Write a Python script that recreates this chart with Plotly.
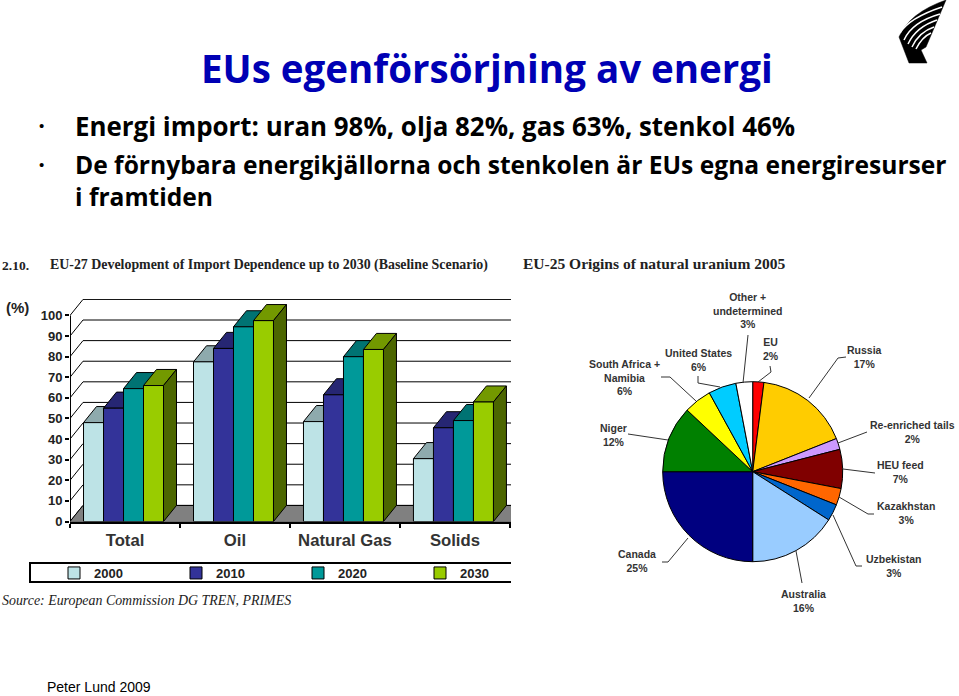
import plotly.graph_objects as go

W = 959
H = 696

categories = ["Total", "Oil", "Natural Gas", "Solids"]
years = ["2000", "2010", "2020", "2030"]
import_2000 = [48, 77.5, 48.5, 30.5]
import_2010 = [55, 84, 61.5, 45.5]
import_2020 = [64.5, 94.5, 80, 49]
import_2030 = [66, 97.5, 83.5, 58]
y_ticks = [0, 10, 20, 30, 40, 50, 60, 70, 80, 90, 100]

pie_labels = ["EU", "Russia", "Re-enriched tails", "HEU feed", "Kazakhstan", "Uzbekistan",
              "Australia", "Canada", "Niger", "South Africa +<br>Namibia", "United States",
              "Other +<br>undetermined"]
pie_values = [2, 17, 2, 7, 3, 3, 16, 25, 12, 5, 5, 3]
pie_text = ["2%", "17%", "2%", "7%", "3%", "3%", "16%", "25%", "12%", "6%", "6%", "3%"]

front_colors = ["#BDE3E6", "#333399", "#009999", "#99CC00"]
top_colors = ["#8EAAAD", "#262673", "#007373", "#739900"]
side_color = "#4C6600"
pie_colors = ["#FF0000", "#FFCC00", "#CC99FF", "#800000", "#FF6600", "#0066CC",
              "#99CCFF", "#000080", "#008000", "#FFFF00", "#00CCFF", "#FFFFFF"]

series = [import_2000, import_2010, import_2020, import_2030]

# depth of the fake 3d, in axis units
DX = 13 / 110
DY = 7.8
BAR_W = 80 / 110 / 4
BAR_START = -0.377


def px(x):
    return x / W


def py(y):
    return 1 - y / H


def text(x, y, s, size, color="black", family="Liberation Sans", anchor="center", align="center"):
    fig.add_annotation(x=px(x), y=py(y), xref="paper", yref="paper", text=s, showarrow=False,
                       xanchor=anchor, yanchor="middle", align=align,
                       font=dict(family=family, size=size, color=color))


fig = go.Figure()


def face(xs, ys, color):
    fig.add_trace(go.Scatter(x=xs, y=ys, mode="lines", fill="toself", fillcolor=color,
                             line=dict(color="black", width=1), showlegend=False,
                             hoverinfo="skip"))


# back wall grid
for t in y_ticks:
    fig.add_trace(go.Scatter(x=[-0.5, -0.5 + DX, 3.6], y=[t, t + DY, t + DY], mode="lines",
                             line=dict(color="black", width=1), showlegend=False,
                             hoverinfo="skip"))
# floor
face([-0.5, -0.5 + DX, 3.6, 3.6, -0.5], [0, DY, DY, 0, 0], "#808080")

# tops and sides go on the lower axes so the bar fronts cover them
for i, values in enumerate(series):
    for c, v in enumerate(values):
        left = c + BAR_START + i * BAR_W
        right = left + BAR_W
        face([left, left + DX, right + DX, right, left], [v, v + DY, v + DY, v, v], top_colors[i])
        if i == len(series) - 1:
            face([right, right + DX, right + DX, right, right], [0, DY, v + DY, v, 0], side_color)

for i, values in enumerate(series):
    fig.add_trace(go.Bar(x=list(range(len(categories))), y=values, name=years[i],
                         width=BAR_W, offset=BAR_START + i * BAR_W,
                         marker=dict(color=front_colors[i], line=dict(color="black", width=1)),
                         xaxis="x2", yaxis="y2"))

# y axis line, only up to 100
fig.add_trace(go.Scatter(x=[-0.5, -0.5], y=[0, 100], mode="lines", cliponaxis=False,
                         line=dict(color="black", width=2), showlegend=False, hoverinfo="skip"))

fig.add_trace(go.Pie(labels=pie_labels, values=pie_values, sort=False, direction="clockwise",
                     rotation=0, textinfo="none", showlegend=False,
                     marker=dict(colors=pie_colors, line=dict(color="black", width=1)),
                     domain=dict(x=[px(662.7), px(842.7)], y=[py(561.7), py(381.7)])))

x_dom = [px(70), px(511)]
y_dom = [py(521.5), py(299)]
x_range = [-0.5, 3.51]
y_range = [0, 108]

fig.update_layout(
    width=W, height=H, margin=dict(l=0, r=0, t=0, b=0), paper_bgcolor="white",
    plot_bgcolor="white", barmode="overlay", showlegend=True,
    xaxis=dict(domain=x_dom, range=x_range, tickvals=list(range(4)), ticktext=categories,
               automargin=False, showgrid=False, zeroline=False, showline=True,
               linecolor="black", linewidth=2, ticks="", ticklen=0, ticklabelstandoff=2,
               tickfont=dict(family="Liberation Sans", size=16.7, color="#333333", weight="bold"),
               minor=dict(ticks="outside", tickmode="array", tickvals=[-0.5, 0.5, 1.5, 2.5, 3.5],
                          ticklen=4, tickcolor="black", tickwidth=2)),
    yaxis=dict(domain=y_dom, range=y_range, tickvals=y_ticks, automargin=False, showgrid=False,
               zeroline=False, ticks="outside", ticklen=4, tickcolor="black", tickwidth=2,
               tickfont=dict(family="Liberation Sans", size=13, color="#222222", weight="bold")),
    xaxis2=dict(domain=x_dom, range=x_range, overlaying="x", visible=False, automargin=False),
    yaxis2=dict(domain=y_dom, range=y_range, overlaying="y", visible=False, automargin=False),
    legend=dict(orientation="h", x=px(54), y=py(573), xanchor="left", yanchor="middle",
                entrywidth=77, entrywidthmode="pixels", bgcolor="rgba(0,0,0,0)",
                font=dict(family="Liberation Sans", size=13, color="#222222", weight="bold")),
)

# legend frame, cut off on the right like the picture
fig.add_shape(type="path", xref="paper", yref="paper",
              path=f"M {px(511)} {py(563)} L {px(30)} {py(563)} L {px(30)} {py(582)} L {px(511)} {py(582)}",
              line=dict(color="black", width=2))

# leader lines of the pie, read in pixels
leaders = [
    [(758, 382), (771, 372), (770, 366)],
    [(809, 398), (838, 358), (846, 357)],
    [(838, 443), (867, 432)],
    [(843, 469), (875, 473)],
    [(839, 497), (868, 514), (874, 514)],
    [(833, 515), (856, 566), (862, 566)],
    [(796, 551), (802, 583)],
    [(688, 538), (668, 562), (662, 562)],
    [(668, 440), (628, 434)],
    [(696, 401), (670, 377), (661, 377)],
    [(720, 387), (698, 383), (698, 376)],
    [(743, 383), (748, 335)],
]
for pts in leaders:
    path = "M " + " L ".join(f"{px(a)} {py(b)}" for a, b in pts)
    fig.add_shape(type="path", xref="paper", yref="paper", path=path,
                  line=dict(color="#333333", width=1))


def logo_path(d):
    # d is in pixels of the picture
    out = []
    is_x = True
    for token in d.split():
        if token.isalpha():
            out.append(token)
            is_x = True
        else:
            out.append(str(px(float(token)) if is_x else py(float(token))))
            is_x = not is_x
    return " ".join(out)


# logo, black sail with white curved cuts
fig.add_shape(type="path", xref="paper", yref="paper",
              path=logo_path("M 946 0 Q 909 13 899 37 L 909 63 L 927 63 L 921 50 L 926 47 Z"),
              fillcolor="black", line=dict(color="black", width=0.5))
cuts = [
    "M 900 33 Q 909 18 942 7",
    "M 904 40 Q 912 22 940 14",
    "M 908 44 Q 916 27 937 20",
    "M 912 47 Q 919 32 934 27",
    "M 916 49 Q 922 37 931 33",
]
for d in cuts:
    fig.add_shape(type="path", xref="paper", yref="paper", path=logo_path(d),
                  line=dict(color="white", width=1.5))

# slide text
HAND = "Comic Sans MS, Open Sans, Noto Sans"
text(487, 68, "<b>EUs egenförsörjning av energi</b>", 38.5, "#0000B4", HAND)
text(73, 126, "<b>Energi import: uran 98%, olja 82%, gas 63%, stenkol 46%</b>", 25.9, "black", HAND, "left")
text(73, 181, "<b>De förnybara energikjällorna och stenkolen är EUs egna energiresurser<br>i framtiden</b>",
     24.6, "black", HAND, "left", "left")
text(41, 125, "•", 15)
text(41, 164, "•", 15)
text(45, 686.5, "Peter Lund 2009", 14, "black", "Liberation Sans", "left")

SERIF = "Liberation Serif"
text(0, 265, "<b>2.10.</b>", 13.5, "#222222", SERIF, "left")
text(48, 265, "<b>EU-27 Development of Import Dependence up to 2030 (Baseline Scenario)</b>", 13.9, "#222222", SERIF, "left")
text(17, 307, "<b>(%)</b>", 15, "#222222", "Liberation Sans")
text(0, 600, "<i>Source: European Commission DG TREN, PRIMES</i>", 13.9, "#222222", SERIF, "left")
text(521, 263, "<b>EU-25 Origins of natural uranium 2005</b>", 15.5, "#222222", SERIF, "left")

# pie labels, same order as the slices
label_xy = [(771, 349), (864, 357), (912, 432), (900, 472), (906, 513), (893, 566),
            (803, 601), (637, 561), (613, 435), (624, 377), (698, 360), (747, 310)]
for (x, y), name, pct in zip(label_xy, pie_labels, pie_text):
    text(x, y, f"<b>{name}<br>{pct}</b>", 10.5, "#333333")

fig.write_html("out.html", config={"displayModeBar": False},
               post_script="document.body.style.margin='0';")
